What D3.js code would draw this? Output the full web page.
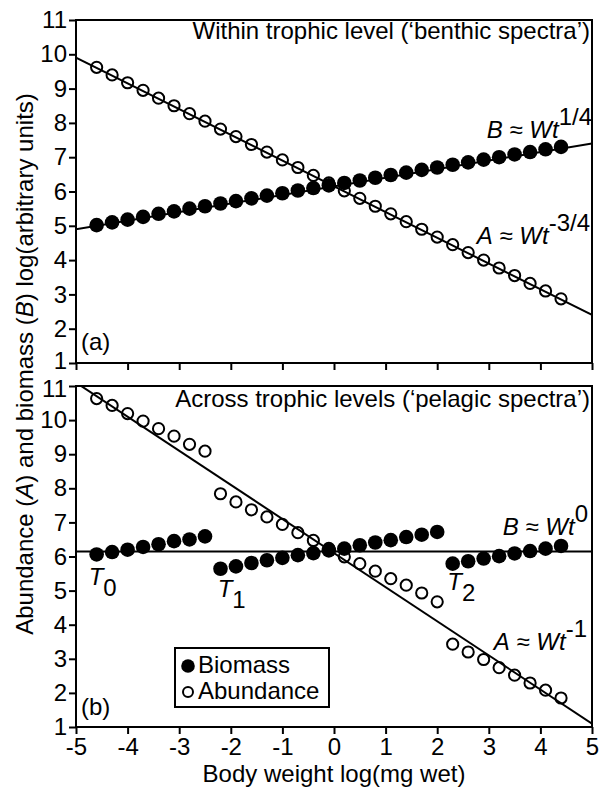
<!DOCTYPE html>
<html><head><meta charset="utf-8">
<script src="https://cdn.jsdelivr.net/npm/d3@7"></script>
<style>
body{margin:0;background:#fff}
text{font-family:"Liberation Sans",Arial,Helvetica,sans-serif;fill:#000}
</style>
</head><body>
<svg id="c" width="607" height="787"></svg>
<script>
const xTicks=[-5,-4,-3,-2,-1,0,1,2,3,4,5];
const yTicks=[1,2,3,4,5,6,7,8,9,10,11];
const bodyWeight=[-4.6,-4.3,-4.0,-3.7,-3.4,-3.1,-2.8,-2.5,-2.2,-1.9,-1.6,-1.3,-1.0,-0.7,-0.4,-0.1,0.2,0.5,0.8,1.1,1.4,1.7,2.0,2.3,2.6,2.9,3.2,3.5,3.8,4.1,4.4];
const benthicBiomass=[5.02,5.10,5.18,5.26,5.35,5.42,5.50,5.57,5.65,5.72,5.80,5.88,5.95,6.03,6.10,6.18,6.25,6.32,6.40,6.48,6.55,6.63,6.70,6.78,6.85,6.93,7.00,7.08,7.15,7.23,7.30];
const benthicAbundance=[9.62,9.40,9.17,8.95,8.72,8.50,8.27,8.05,7.82,7.60,7.37,7.15,6.92,6.70,6.47,6.25,6.02,5.80,5.57,5.35,5.12,4.90,4.67,4.45,4.22,4.00,3.77,3.55,3.32,3.10,2.87];
const pelagicBiomass=[6.06,6.13,6.20,6.28,6.36,6.45,6.50,6.59,5.64,5.71,5.81,5.89,5.96,6.04,6.10,6.18,6.23,6.33,6.41,6.48,6.57,6.64,6.72,5.79,5.86,5.94,6.01,6.09,6.16,6.23,6.31];
const pelagicAbundance=[10.63,10.43,10.19,9.97,9.75,9.53,9.29,9.09,7.84,7.60,7.37,7.16,6.94,6.70,6.47,6.24,5.99,5.79,5.57,5.35,5.16,4.93,4.67,3.43,3.20,2.98,2.74,2.52,2.29,2.08,1.85];
const benthicFitB=[[-5,4.9],[5,7.4]];
const benthicFitA=[[-5,9.9],[5,2.4]];
const pelagicFitB=[[-5,6.15],[5,6.15]];
const pelagicFitA=[[-5,11.1],[5,1.1]];
const trophicLevels=["0","1","2"];

const svg=d3.select("#c");
const FS=24;
const x=d3.scaleLinear().domain([-5,5]).range([76,592]);
const yTop=d3.scaleLinear().domain([1,11]).range([363,20]);
const yBot=d3.scaleLinear().domain([1,11]).range([727,386]);

function panel(id,y,bio,abu,fitA,fitB,xLabels,nudge){
  const g=svg.append("g");
  const [y0,y1]=y.range();
  g.append("clipPath").attr("id","clip"+id).append("rect")
    .attr("x",x(-5)).attr("y",y1).attr("width",x(5)-x(-5)).attr("height",y0-y1);
  const line=d3.line().x(d=>x(d[0])).y(d=>y(d[1]));
  const lg=g.append("g").attr("clip-path","url(#clip"+id+")");
  [fitA,fitB].forEach(f=>lg.append("path").attr("d",line(f)).attr("fill","none").attr("stroke","#000").attr("stroke-width",2));
  g.append("g").selectAll("circle").data(abu).join("circle")
    .attr("cx",(d,i)=>x(bodyWeight[i])).attr("cy",d=>y(d)).attr("r",5.6)
    .attr("fill","none").attr("stroke","#000").attr("stroke-width",2);
  g.append("g").selectAll("circle").data(bio).join("circle")
    .attr("cx",(d,i)=>x(bodyWeight[i])).attr("cy",d=>y(d)).attr("r",7.3)
    .attr("fill","#000");
  g.append("rect").attr("x",x(-5)).attr("y",y1).attr("width",x(5)-x(-5)).attr("height",y0-y1)
    .attr("fill","none").attr("stroke","#000").attr("stroke-width",2);
  const ax=g.append("g").attr("transform",`translate(${x(-5)},0)`)
    .call(d3.axisLeft(y).tickValues(yTicks).tickSize(7).tickPadding(2).tickFormat(d=>String(d)));
  ax.select(".domain").remove();
  ax.selectAll("line").attr("stroke-width",2);
  ax.selectAll("text").attr("font-size",FS).attr("font-family",null);
  ax.selectAll(".tick").filter(d=>d===nudge.v).select("text").attr("y",nudge.dy);
  const bx=g.append("g").attr("transform",`translate(0,${y0})`)
    .call(d3.axisBottom(x).tickValues(xTicks).tickSize(7).tickPadding(4).tickFormat(xLabels?(d=>String(d)):""));
  bx.select(".domain").remove();
  bx.selectAll("line").attr("stroke-width",2);
  bx.selectAll("text").attr("font-size",FS).attr("font-family",null);
  return g;
}

const gA=panel("a",yTop,benthicBiomass,benthicAbundance,benthicFitA,benthicFitB,false,{v:1,dy:-2.6});
const gB=panel("b",yBot,pelagicBiomass,pelagicAbundance,pelagicFitA,pelagicFitB,true,{v:11,dy:2.6});

function label(g,px,py,parts,anchor,fs){
  const t=g.append("text").attr("x",px).attr("y",py).attr("font-size",fs||FS).attr("text-anchor",anchor||"start");
  parts.forEach(p=>{
    const s=t.append("tspan").text(p.t);
    if(p.i) s.attr("font-style","italic");
    if(p.dy) s.attr("dy",p.dy);
    if(p.fs) s.attr("font-size",p.fs);
  });
  return t;
}
// titles
label(gA,590,39,[{t:"Within trophic level (\u2018benthic spectra\u2019)"}],"end");
label(gB,590,407,[{t:"Across trophic levels (\u2018pelagic spectra\u2019)"}],"end");
label(gA,81,350,[{t:"(a)"}]);
label(gB,81,715,[{t:"(b)"}]);
// formulas
label(gA,592,138,[{t:"B",i:1},{t:" \u2248 "},{t:"Wt",i:1},{t:"1/4",dy:-13}],"end");
label(gA,590,244,[{t:"A",i:1},{t:" \u2248 "},{t:"Wt",i:1},{t:"-3/4",dy:-13}],"end");
label(gB,588,535,[{t:"B",i:1},{t:" \u2248 "},{t:"Wt",i:1},{t:"0",dy:-13}],"end");
label(gB,587,650,[{t:"A",i:1},{t:" \u2248 "},{t:"Wt",i:1},{t:"-1",dy:-13}],"end");
// trophic level labels
const tPos=[[-4.6,585],[-2.1,597],[2.35,590]];
trophicLevels.forEach((s,i)=>{
  label(gB,x(tPos[i][0])-8,tPos[i][1],[{t:"T",i:1},{t:s,dy:11}]);
});
// legend
const leg=svg.append("g");
leg.append("rect").attr("x",175).attr("y",648).attr("width",154).attr("height",59).attr("fill","#fff").attr("stroke","#000").attr("stroke-width",2);
leg.append("circle").attr("cx",188).attr("cy",666).attr("r",6.8).attr("fill","#000");
leg.append("circle").attr("cx",188).attr("cy",692).attr("r",5).attr("fill","none").attr("stroke","#000").attr("stroke-width",2);
label(leg,198,673,[{t:"Biomass"}]);
label(leg,198,699,[{t:"Abundance"}]);
// axis titles
label(svg,334,782,[{t:"Body weight log(mg wet)"}],"middle");
const yt=label(svg,0,0,[{t:"Abundance ("},{t:"A",i:1},{t:") and biomass ("},{t:"B",i:1},{t:") log(arbitrary units)"}],"middle");
yt.attr("transform","translate(33,364) rotate(-90)");
</script>
</body></html>
